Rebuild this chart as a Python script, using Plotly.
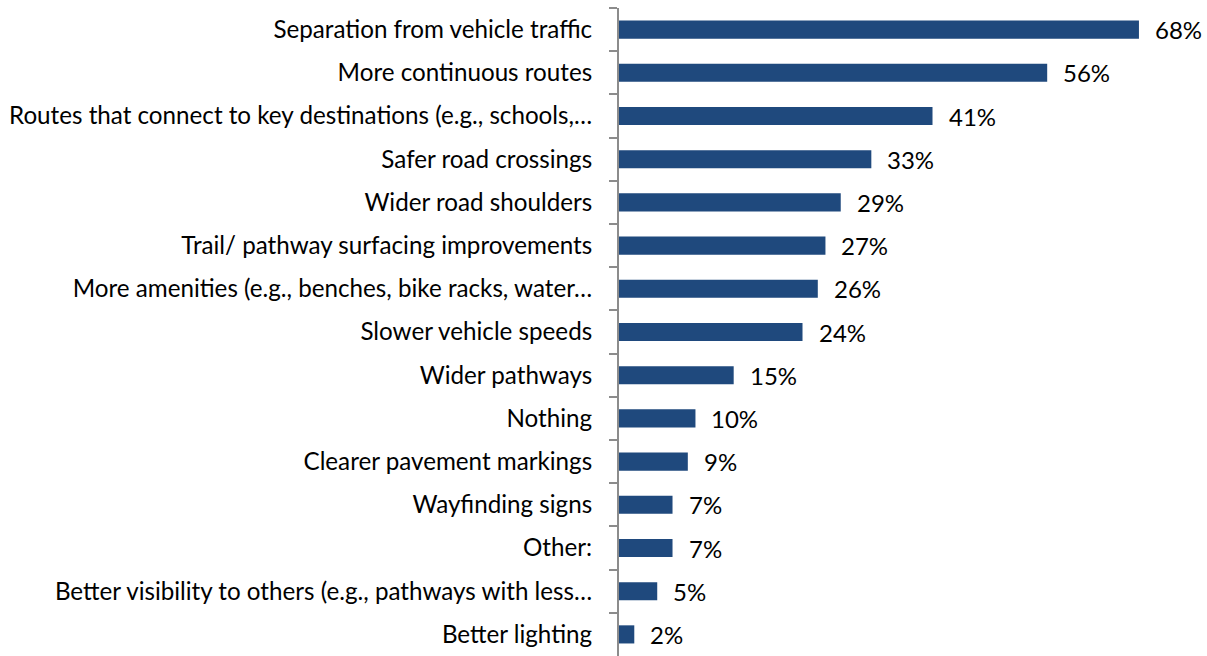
import plotly.graph_objects as go

categories = [
    "Separation from vehicle traffic",
    "More continuous routes",
    "Routes that connect to key destinations (e.g., schools,…",
    "Safer road crossings",
    "Wider road shoulders",
    "Trail/ pathway surfacing improvements",
    "More amenities (e.g., benches, bike racks, water…",
    "Slower vehicle speeds",
    "Wider pathways",
    "Nothing",
    "Clearer pavement markings",
    "Wayfinding signs",
    "Other:",
    "Better visibility to others (e.g., pathways with less…",
    "Better lighting",
]
values = [68, 56, 41, 33, 29, 27, 26, 24, 15, 10, 9, 7, 7, 5, 2]
value_labels = [f"{v}%" for v in values]

FONT = "Lato"
fig = go.Figure()
fig.add_trace(go.Bar(
    x=values, y=categories, orientation="h",
    marker=dict(color="#1F497D", line=dict(width=0)),
    width=0.42,
    hoverinfo="skip",
))
for c, v, t in zip(categories, values, value_labels):
    fig.add_annotation(x=v, y=c, text=t, showarrow=False, xanchor="left",
                       xshift=14, font=dict(family=FONT, size=24, color="#000000"))

fig.update_layout(
    width=1207, height=656,
    margin=dict(l=619, r=0, t=8, b=0, autoexpand=False),
    plot_bgcolor="white", paper_bgcolor="white",
    showlegend=False,
    font=dict(family=FONT, size=24.2, color="#000000"),
    xaxis=dict(range=[0, 76.9], visible=False, fixedrange=True, automargin=False),
    yaxis=dict(
        autorange="reversed", type="category", automargin=False, fixedrange=True,
        showline=True, linecolor="#8C8C8C", linewidth=2,
        ticks="outside", ticklen=8, tickcolor="#8C8C8C", tickwidth=2,
        tickson="boundaries", ticklabelstandoff=20,
        showgrid=False, tickfont=dict(family=FONT, size=24.2, color="#000000"),
    ),
)
fig.write_html(
    "out.html",
    config={"displayModeBar": False, "staticPlot": True},
    post_script="document.body.style.margin='0';document.body.style.overflow='hidden';",
)
